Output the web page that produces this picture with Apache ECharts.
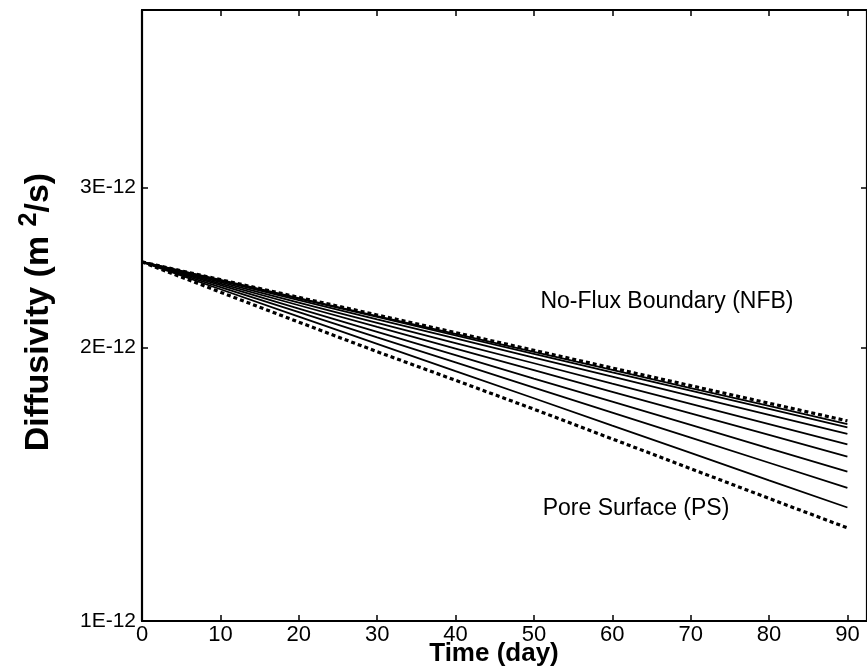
<!DOCTYPE html>
<html><head><meta charset="utf-8">
<script src="https://cdn.jsdelivr.net/npm/echarts@6/dist/echarts.min.js"></script>
<style>html,body{margin:0;padding:0;background:#fff}#c{width:867px;height:666px}</style>
</head><body><div id="c"></div>
<script>
// Time (day)
const days = [0, 10, 20, 30, 40, 50, 60, 70, 80, 90];
// Diffusivity values (x 1E-12 m^2/s)
const nfb = [2.483, 2.374, 2.270, 2.171, 2.076, 1.985, 1.898, 1.815, 1.736, 1.660];
const s1  = [2.483, 2.372, 2.266, 2.165, 2.069, 1.977, 1.889, 1.804, 1.724, 1.647];
const s2  = [2.483, 2.370, 2.262, 2.160, 2.061, 1.967, 1.877, 1.792, 1.711, 1.633];
const s3  = [2.483, 2.366, 2.254, 2.147, 2.046, 1.949, 1.857, 1.769, 1.686, 1.606];
const s4  = [2.483, 2.359, 2.240, 2.128, 2.022, 1.921, 1.824, 1.733, 1.646, 1.564];
const s5  = [2.483, 2.350, 2.225, 2.106, 1.994, 1.888, 1.787, 1.692, 1.602, 1.516];
const s6  = [2.483, 2.341, 2.206, 2.080, 1.961, 1.848, 1.743, 1.643, 1.548, 1.460];
const s7  = [2.483, 2.330, 2.186, 2.051, 1.925, 1.806, 1.695, 1.591, 1.493, 1.401];
const s8  = [2.483, 2.317, 2.162, 2.018, 1.883, 1.758, 1.640, 1.531, 1.428, 1.333];
const ps  = [2.483, 2.300, 2.132, 1.978, 1.840, 1.710, 1.586, 1.471, 1.364, 1.266];
const solidSeries = [s1, s2, s3, s4, s5, s6, s7, s8];
const yTicks = [1, 2, 3];
const xTicks = [0, 10, 20, 30, 40, 50, 60, 70, 80, 90];
const SCALE = 1e-12;

const font = 'Liberation Sans, Arial, sans-serif';
const toPairs = arr => days.map((d, i) => [d, arr[i] * SCALE]);
const series = [];
solidSeries.forEach((s, i) => series.push({
  name: 'r' + (i + 1), type: 'line', data: toPairs(s), showSymbol: false, silent: true,
  lineStyle: { color: '#000', width: 1.8 }, z: 2
}));
[nfb, ps].forEach((s, i) => series.push({
  name: i === 0 ? 'NFB' : 'PS', type: 'line', data: toPairs(s), showSymbol: false, silent: true,
  lineStyle: { color: '#000', width: 3.2, type: [4, 3] }, z: 3
}));

const chart = echarts.init(document.getElementById('c'));
const yVals = yTicks.map(v => v * SCALE);
const tickStyle = { color: '#000', width: 1.5 };
const axLine = { onZero: false, lineStyle: { color: '#000', width: 2.2 } };
const xBase = { type: 'value', min: 0, max: 92.5, interval: 10, splitLine: { show: false } };
const yBase = { type: 'log', logBase: 10, min: 1e-12, max: 4.7e-12, splitLine: { show: false }, minorTick: { show: false } };
chart.setOption({
  animation: false,
  grid: { left: 142, top: 10, right: 0, bottom: 45, containLabel: false, outerBoundsMode: 'none' },
  xAxis: [
    Object.assign({}, xBase, { position: 'bottom', axisLine: axLine,
      axisTick: { inside: true, length: 6, lineStyle: tickStyle, customValues: xTicks },
      axisLabel: { customValues: xTicks, color: '#000', fontSize: 22, fontFamily: font, margin: 3 } }),
    Object.assign({}, xBase, { position: 'top', axisLine: axLine,
      axisTick: { inside: true, length: 6, lineStyle: tickStyle, customValues: xTicks },
      axisLabel: { show: false } })
  ],
  yAxis: [
    Object.assign({}, yBase, { position: 'left', axisLine: axLine,
      axisTick: { inside: true, length: 6, lineStyle: tickStyle, customValues: yVals },
      axisLabel: { customValues: yVals, color: '#000', fontSize: 21, fontFamily: font, margin: 6,
        formatter: v => Math.round(v / SCALE) + 'E-12' } }),
    Object.assign({}, yBase, { position: 'right', axisLine: axLine,
      axisTick: { inside: true, length: 6, lineStyle: tickStyle, customValues: yVals },
      axisLabel: { show: false } })
  ],
  series: series,
  graphic: [
    { type: 'text', x: 667, y: 302, style: { text: 'No-Flux Boundary (NFB)', fill: '#000', fontSize: 23, fontFamily: font, align: 'center', verticalAlign: 'middle' } },
    { type: 'text', x: 636, y: 509, style: { text: 'Pore Surface (PS)', fill: '#000', fontSize: 23, fontFamily: font, align: 'center', verticalAlign: 'middle' } },
    { type: 'text', x: 494, y: 654, style: { text: 'Time (day)', fill: '#000', fontSize: 26, fontWeight: 'bold', fontFamily: font, align: 'center', verticalAlign: 'middle' } },
    { type: 'text', x: 39, y: 312, rotation: Math.PI / 2, style: {
        text: 'Diffusivity (m {sup|2}/s)', fill: '#000', fontSize: 34, fontWeight: 'bold', fontFamily: font,
        align: 'center', verticalAlign: 'middle',
        rich: { sup: { fontSize: 25, fontWeight: 'bold', fontFamily: font, fill: '#000', padding: [0, 0, 20, 0] } }
      } }
  ]
});
</script></body></html>
